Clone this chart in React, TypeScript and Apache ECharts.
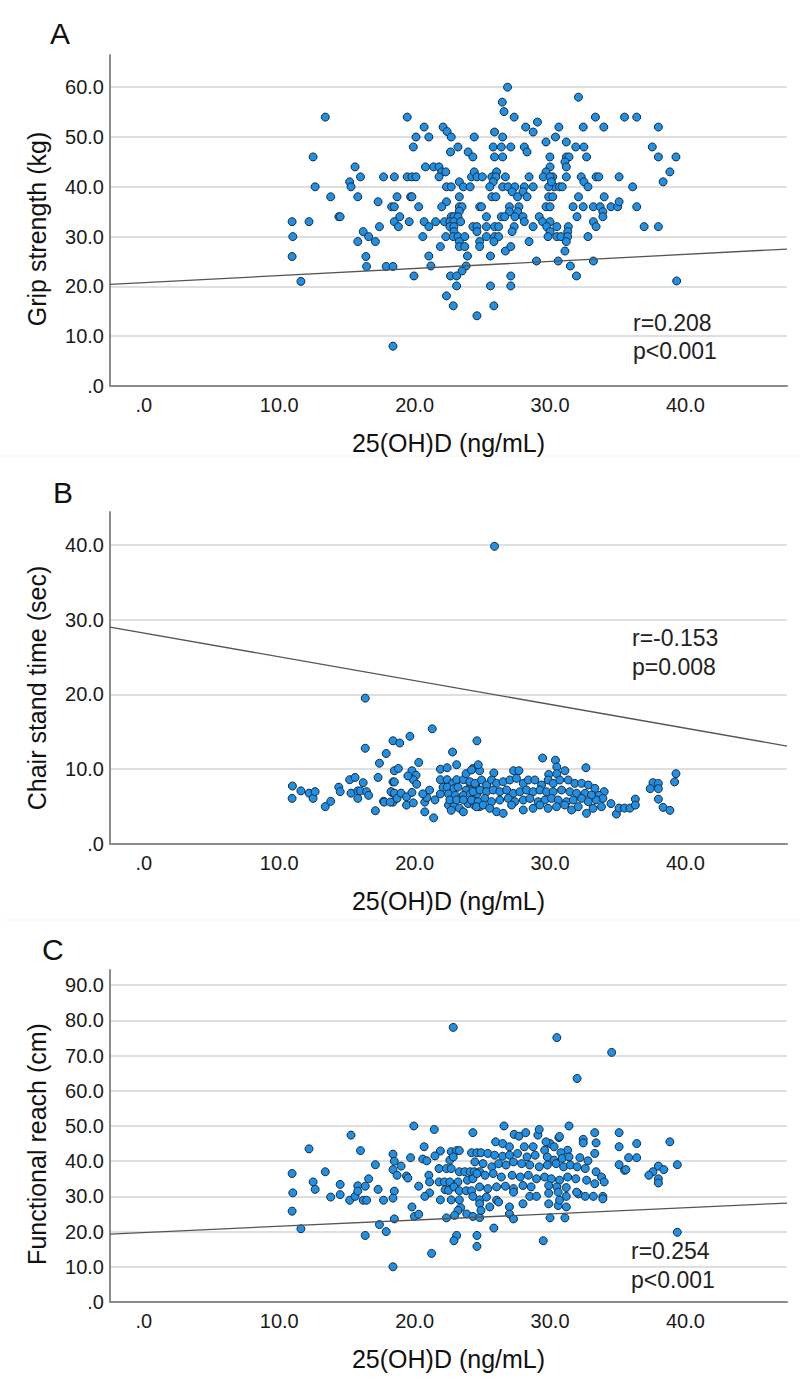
import React, { useEffect, useRef } from 'react';
import * as echarts from 'echarts';

// ---------- DATA ----------
const xTickValues = [0, 10, 20, 30, 40];

// Panel A: Grip strength (kg) vs 25(OH)D
const gripStrength: number[][] = [
  [10.95, 33], [11.0, 30], [10.95, 26], [11.6, 21], [12.2, 33], [12.5, 46], [12.65, 40], [13.4, 54], [13.8, 38],
  [14.4, 34], [14.5, 34], [15.2, 41], [15.3, 40], [15.6, 44], [15.8, 38], [16.0, 42], [15.8, 29], [16.2, 31],
  [16.4, 26], [16.45, 24], [16.6, 30], [17.1, 29], [17.3, 37], [17.4, 32], [17.7, 42], [17.9, 24], [18.4, 24],
  [18.4, 8], [18.5, 42], [18.3, 36], [18.5, 36], [18.5, 33], [18.7, 38], [18.8, 32],
  [19.45, 54], [20.7, 52], [22.1, 52], [22.4, 51.1], [20.1, 50], [21.05, 50], [22.7, 50], [24.4, 50], [19.9, 48],
  [23.2, 48], [22.65, 47], [23.95, 47], [24.3, 46], [20.8, 44], [21.4, 44], [21.8, 44], [22.0, 43], [22.3, 43],
  [21.8, 42], [19.45, 42], [19.8, 42], [20.1, 42], [24.2, 42], [22.35, 40], [22.7, 40], [23.3, 41], [23.6, 40],
  [24.1, 40], [19.7, 38], [19.8, 38], [23.3, 38], [22.35, 37], [22.0, 36], [20.3, 36], [23.3, 36], [23.5, 36],
  [23.3, 35.1], [18.9, 34], [22.7, 34], [22.9, 34], [23.2, 34], [24.8, 36], [19.6, 33], [20.7, 33], [21.55, 33],
  [22.2, 33], [22.6, 33], [22.9, 33], [23.4, 33], [21.05, 32], [22.6, 32], [22.9, 32], [22.9, 31], [20.6, 30],
  [22.3, 30], [22.85, 30], [23.2, 30], [23.7, 30], [23.3, 29], [21.9, 28], [23.3, 28], [23.7, 28], [21.05, 26.1],
  [23.9, 26.1], [21.2, 24.1], [23.8, 24.1], [23.5, 23.1], [19.95, 22.1], [22.65, 22.1], [23.1, 22.1], [23.1, 20.1],
  [22.35, 18.1], [22.85, 16.1], [24.6, 14.1],
  [26.86, 60], [26.47, 57], [26.6, 55.1], [27.35, 54], [29.07, 53], [28.2, 52], [28.75, 51], [30.65, 52], [32.1, 58],
  [33.35, 54], [32.45, 52], [33.97, 52], [35.5, 54], [36.4, 54], [38.0, 52], [25.9, 51], [26.5, 50], [30.4, 50],
  [29.7, 49], [31.2, 49], [31.9, 48], [32.5, 48], [37.55, 48], [38.0, 46], [39.3, 46], [38.85, 43], [38.35, 41],
  [25.8, 48], [26.4, 48], [27.1, 48], [28.1, 48], [28.3, 47], [25.9, 46], [26.5, 46], [29.99, 46], [31.2, 46],
  [31.4, 46], [32.7, 46], [31.1, 45], [30.0, 44], [31.2, 44], [26.05, 43], [24.4, 43], [29.7, 43], [30.2, 42],
  [24.6, 42], [25.0, 42], [25.7, 42], [26.0, 42], [26.7, 42], [28.45, 42], [29.5, 42], [30.0, 42], [31.2, 42],
  [32.3, 42], [33.4, 42], [33.6, 42], [35.1, 42], [25.8, 41], [25.55, 40], [26.5, 40], [26.9, 40], [27.4, 40],
  [28.1, 40], [28.75, 40], [30.3, 40], [30.7, 40], [30.9, 40], [32.5, 41], [32.8, 40], [36.1, 40], [27.2, 39],
  [28.0, 39], [29.9, 40], [30.1, 41], [25.7, 38], [26.0, 38], [27.6, 38], [28.3, 38], [29.9, 38], [30.2, 38],
  [32.1, 38], [34.0, 38], [24.94, 36], [27.0, 36], [27.7, 36], [29.7, 36], [30.0, 36], [31.7, 36], [32.45, 36],
  [33.2, 36], [33.7, 36], [34.5, 36], [35.0, 36], [35.1, 37], [36.4, 36], [27.6, 35], [27.0, 35], [33.9, 35],
  [25.3, 34], [26.4, 34], [26.65, 34], [27.4, 34], [28.0, 34], [29.2, 34], [31.99, 34], [33.9, 34], [28.1, 33],
  [29.45, 33], [30.0, 33], [33.2, 33], [24.3, 32], [24.6, 32], [25.3, 32], [25.9, 32], [26.2, 32], [27.35, 32],
  [28.75, 32], [29.75, 32], [30.5, 32], [31.35, 32], [33.4, 32], [36.95, 32], [38.0, 32], [27.2, 31], [30.0, 31],
  [31.3, 31], [24.6, 31], [25.3, 30], [25.9, 30], [26.2, 30], [29.85, 30], [30.5, 30], [30.8, 30], [31.3, 30],
  [32.8, 30], [24.8, 29], [25.85, 29], [28.45, 29], [31.2, 29], [24.8, 28], [26.7, 27.1], [27.1, 28], [31.1, 27.1],
  [25.6, 26.1], [29.0, 25.1], [30.6, 25.1], [33.2, 25.1], [31.5, 24.1], [31.95, 22.1], [27.1, 22.1], [25.6, 20.1],
  [27.1, 20.1], [39.35, 21.1], [25.85, 16.1],
];

// Panel B: Chair stand time (sec) vs 25(OH)D
const chairStand: number[][] = [
  [10.97, 7.75], [10.95, 6.1], [11.6, 7.1], [12.2, 6.8], [12.5, 6.1], [12.65, 7.0], [13.4, 5.0], [13.8, 5.7],
  [14.4, 7.6], [14.5, 7.0], [15.2, 8.6], [15.6, 8.9], [15.3, 6.8], [15.8, 7.1], [15.8, 6.1], [16.0, 7.1],
  [16.2, 8.2], [16.35, 19.5], [16.35, 12.8], [16.45, 7.0], [16.6, 6.5], [17.1, 4.45], [17.3, 8.9], [17.4, 10.8],
  [17.7, 5.7], [17.9, 12.1], [18.4, 13.8], [18.9, 13.5], [18.4, 8.3], [18.5, 8.3], [18.5, 9.8], [18.4, 6.8],
  [18.4, 5.6], [19.65, 14.4], [21.3, 15.4], [22.8, 12.3], [24.6, 13.8], [23.1, 10.6], [20.3, 10.9], [19.8, 9.8],
  [21.9, 10.0], [22.4, 10.2], [24.3, 10.1], [24.8, 9.8], [18.8, 10.1], [20.1, 9.2], [19.9, 8.6], [19.5, 9.1],
  [20.15, 8.0], [21.1, 7.2], [18.25, 7.0], [18.5, 6.8], [18.7, 6.1], [19.0, 6.8], [19.4, 6.3], [19.8, 6.9],
  [17.75, 5.6], [18.2, 5.6], [19.4, 5.2], [19.9, 5.5], [20.75, 5.6], [20.9, 6.2], [21.5, 5.9], [20.6, 6.7],
  [20.75, 4.3], [21.4, 3.5], [21.9, 6.7], [22.1, 7.6], [21.9, 8.6], [22.4, 8.6], [22.8, 8.1], [23.1, 8.6],
  [23.6, 8.6], [24.1, 8.1], [24.5, 7.9], [22.4, 7.6], [22.9, 7.4], [23.2, 7.6], [23.8, 7.2], [22.5, 6.7],
  [23.0, 6.5], [23.6, 6.5], [24.1, 6.7], [24.6, 6.7], [22.5, 5.2], [22.9, 5.0], [23.3, 4.8], [23.95, 5.4],
  [24.4, 5.2], [24.8, 5.0], [22.6, 5.9], [23.1, 5.9], [23.6, 5.9], [24.2, 5.9], [23.8, 9.4], [24.2, 9.9],
  [24.7, 10.6], [23.6, 4.3], [22.7, 4.5],
  [29.45, 11.5], [30.4, 11.2], [30.5, 10.3], [32.65, 10.2], [25.85, 9.5], [27.3, 9.8], [27.7, 9.8], [29.9, 9.3],
  [30.5, 9.4], [31.1, 9.8], [39.3, 9.4], [39.2, 8.3], [37.6, 8.2], [38.0, 8.1], [38.0, 7.4], [37.4, 7.4],
  [36.3, 6.0], [38.0, 6.0], [38.35, 4.9], [38.85, 4.5], [34.9, 4.0], [35.1, 4.8], [35.5, 4.8], [35.9, 4.8],
  [36.3, 5.2], [34.5, 5.4], [34.0, 7.0], [33.6, 6.5], [33.9, 6.1], [33.4, 5.9],
  [24.08, 8.33], [24.45, 8.11], [24.94, 8.56], [25.31, 7.89], [25.68, 8.56], [26.05, 8.11], [26.54, 8.33],
  [27.03, 8.56], [27.52, 8.78], [28.02, 8.11], [28.39, 8.56], [28.88, 8.56], [29.37, 7.89], [29.86, 8.56],
  [30.23, 8.11], [30.72, 8.56], [31.34, 8.56], [31.83, 8.11], [32.33, 8.11], [32.82, 7.89], [33.31, 7.44],
  [24.32, 6.99], [24.82, 7.22], [25.31, 6.99], [25.8, 7.22], [26.29, 6.99], [26.79, 7.22], [27.28, 6.77],
  [27.77, 6.99], [28.26, 7.22], [28.75, 6.99], [29.25, 7.22], [29.74, 6.99], [30.23, 6.99], [30.85, 7.22],
  [31.46, 6.99], [31.96, 6.77], [32.57, 6.77], [33.06, 6.55],
  [24.2, 5.88], [24.69, 5.66], [25.18, 6.1], [25.68, 5.66], [26.29, 5.88], [26.91, 6.1], [27.4, 5.66],
  [28.02, 5.88], [28.51, 6.1], [29.12, 5.66], [29.62, 5.88], [30.11, 6.1], [30.6, 5.88], [31.22, 5.66],
  [31.71, 5.88], [32.33, 6.1], [32.82, 5.66],
  [24.57, 4.99], [25.06, 5.21], [25.55, 4.77], [26.05, 4.32], [26.54, 4.1], [27.16, 5.21], [28.02, 4.55],
  [28.75, 4.77], [29.25, 5.21], [29.86, 4.77], [30.48, 4.99], [31.09, 5.21], [31.59, 4.55], [32.08, 4.99],
  [32.69, 4.1], [33.18, 4.77], [33.8, 4.99],
  [25.9, 39.8],
];

// Panel C: Functional reach (cm) vs 25(OH)D
const functionalReach: number[][] = [
  [10.95, 36.5], [11.0, 31.0], [10.95, 25.8], [11.6, 20.8], [12.2, 43.5], [12.5, 34.1], [12.65, 32.0], [13.4, 37.0],
  [13.8, 29.8], [14.5, 30.5], [14.5, 33.4], [15.2, 28.9], [15.3, 47.4], [15.6, 30.0], [15.8, 33.0], [15.8, 31.5],
  [16.0, 43.0], [16.2, 28.9], [16.45, 28.9], [16.35, 32.9], [16.35, 18.9], [16.6, 35.0], [17.1, 39.0], [17.3, 32.0],
  [17.4, 22.0], [17.7, 28.9], [17.9, 20.0], [18.4, 42.0], [18.4, 37.6], [18.4, 10], [18.5, 40], [18.5, 31.5],
  [18.4, 29.5], [18.5, 23.6], [18.7, 36],
  [19.94, 50], [21.45, 49], [24.3, 48.1], [20.7, 44.1], [21.9, 42.9], [21.5, 41.5], [22.7, 42.7], [23.1, 43],
  [23.3, 43], [24.2, 42.4], [24.6, 42.4], [20.6, 40.6], [20.9, 40.1], [19.7, 41], [19.0, 38.6], [19.4, 35.8],
  [19.5, 35.2], [21.8, 37.9], [22.35, 37.9], [22.7, 37.9], [22.6, 40.3], [22.85, 41.2], [23.3, 37], [23.7, 37],
  [24.1, 37], [24.4, 37], [24.8, 37], [21.05, 36], [21.1, 34.1], [21.8, 34.1], [22.2, 34.1], [22.6, 34.1],
  [23.2, 34.1], [23.9, 34.6], [24.3, 35], [22.25, 31.9], [22.5, 31.7], [22.9, 32.7], [23.3, 31.6], [23.8, 31.6],
  [24.2, 31.6], [20.3, 32.9], [21.1, 31], [20.75, 30], [21.9, 29], [22.7, 29], [23.3, 29], [24.3, 30], [24.8, 29],
  [23.4, 26.8], [23.2, 26], [22.95, 24.6], [22.35, 23.9], [23.85, 25], [24.3, 24.3], [24.8, 24], [19.8, 27],
  [19.98, 24.3], [20.3, 24.9], [23.1, 18.9], [22.9, 17.4], [24.6, 18.9], [24.6, 15.8], [21.25, 13.8],
  [26.6, 50], [31.4, 50], [27.35, 47.6], [27.7, 47.1], [28.2, 48.1], [29.1, 47.4], [29.2, 49], [30.65, 46.7],
  [32.45, 46.2], [32.45, 45.2], [33.3, 48.1], [33.4, 45.2], [35.1, 48.1], [35.1, 44.1], [36.4, 45.0], [38.85, 45.5],
  [25.98, 45.5], [26.5, 45], [27.0, 44.1], [28.1, 44.1], [28.75, 44.1], [29.6, 43.1], [30.0, 45], [29.7, 45.5],
  [30.3, 44.1], [30.7, 47], [31.3, 43.1], [30.8, 42.4], [33.3, 42.2], [24.9, 42.4], [25.4, 42.2], [25.9, 41.7],
  [26.5, 41.4], [27.0, 41.7], [27.6, 42.2], [28.3, 41.2], [28.9, 41.7], [29.8, 41.2], [30.3, 40.3], [30.9, 40.8],
  [31.4, 41.2], [32.2, 41], [32.8, 40.1], [35.1, 39], [35.8, 41], [36.4, 41], [35.5, 37.4], [39.4, 39], [37.6, 37],
  [38.0, 38.6], [38.4, 37.6], [37.3, 36], [38.0, 35.0], [38.0, 33.8], [35.6, 37.6],
  [24.45, 39.8], [25.05, 39.3], [25.7, 38.4], [26.2, 39.3], [26.75, 38.9], [27.3, 39.8], [27.9, 39.3], [28.5, 38.9],
  [29.2, 38.4], [29.8, 38.9], [30.45, 39.3], [31.0, 38.4], [31.5, 38.9], [32.0, 38.4], [32.6, 37.9], [33.4, 37.0],
  [33.8, 35.5], [34.0, 34.1],
  [24.6, 36.5], [25.2, 36], [25.8, 36.5], [26.4, 35.5], [27.2, 36], [27.8, 35.5], [28.4, 36], [29.0, 35.0],
  [29.6, 35.5], [30.1, 35.0], [30.7, 34.6], [31.3, 35.5], [31.9, 35.0], [32.7, 34.6], [33.3, 33.6],
  [24.8, 32.7], [25.4, 32.2], [26.05, 32.7], [26.7, 32.9], [27.3, 32.2], [28.0, 33.1], [28.6, 32.7], [29.9, 33.1],
  [30.5, 32.7], [31.2, 32.5], [32.1, 30.7], [32.6, 30.0], [33.2, 30.0], [33.9, 30.0],
  [25.3, 29.8], [26.05, 28.9], [27.3, 31.2], [28.5, 30.0], [29.0, 30.0], [29.9, 30.9], [30.6, 31.2], [31.2, 30.0],
  [31.96, 31.2], [33.9, 29.3],
  [24.8, 27.9], [25.55, 27], [26.2, 28.4], [27.0, 27], [28.0, 27.9], [29.9, 27.9], [30.6, 27.4], [31.2, 27],
  [30.7, 28.9], [24.9, 26], [27.0, 25], [27.3, 23.6], [30.0, 23.9], [31.1, 23.9],
  [25.85, 21], [29.5, 17.4], [39.4, 19.8],
  [22.85, 78.0], [30.5, 75.1], [34.55, 70.9], [32.0, 63.5],
];

// Fit lines (end points at the x-axis limits)
const fitA = [[-2.5, 20.4], [47.5, 27.5]];
const fitB = [[-2.5, 29.0], [47.5, 13.1]];
const fitC = [[-2.5, 19.3], [47.5, 28.1]];

const yTicksA = [0, 10, 20, 30, 40, 50, 60];
const yTicksB = [0, 10, 20, 30, 40];
const yTicksC = [0, 10, 20, 30, 40, 50, 60, 70, 80, 90];

const panelLetters = ['A', 'B', 'C'];
const yTitles = ['Grip strength (kg)', 'Chair stand time (sec)', 'Functional reach (cm)'];
const xTitle = '25(OH)D (ng/mL)';
const statsR = ['r=0.208', 'r=-0.153', 'r=0.254'];
const statsP = ['p<0.001', 'p=0.008', 'p<0.001'];

// ---------- LAYOUT ----------
const FONT = '"Liberation Sans", Arial, Helvetica, sans-serif';
const X_MIN = -2.5;
const X_MAX = 47.5;
const GRID_LEFT = 110;
const GRID_WIDTH = 677;
const layouts = [
  { top: 55, height: 331, yMax: 66.47, letterX: 50, letterY: 33, yTitleY: 229, rY: 323, pY: 351, statX: 633 },
  { top: 512, height: 332, yMax: 44.39, letterX: 53, letterY: 492, yTitleY: 688, rY: 638, pY: 667, statX: 632 },
  { top: 970, height: 332, yMax: 94.3, letterX: 42, letterY: 949, yTitleY: 1144, rY: 1251, pY: 1280, statX: 631 },
];
const datasets = [gripStrength, chairStand, functionalReach];
const fits = [fitA, fitB, fitC];
const yTicks = [yTicksA, yTicksB, yTicksC];

const fmt = (v: number) => (v === 0 ? '.0' : v.toFixed(1));

export default function App() {
  const ref = useRef<HTMLDivElement>(null);

  useEffect(() => {
    document.body.style.margin = '0';
    if (!ref.current) return;
    const chart = echarts.init(ref.current, null, { renderer: 'svg' });

    const grid: any[] = [];
    const xAxis: any[] = [];
    const yAxis: any[] = [];
    const series: any[] = [];
    const graphic: any[] = [];

    layouts.forEach((L, i) => {
      grid.push({ left: GRID_LEFT, width: GRID_WIDTH, top: L.top, height: L.height, containLabel: false });
      xAxis.push({
        gridIndex: i,
        type: 'value',
        min: X_MIN,
        max: X_MAX,
        axisLine: { show: true, onZero: false, lineStyle: { color: '#8c8c8c', width: 2 } },
        axisTick: { show: false },
        splitLine: { show: false },
        axisLabel: {
          customValues: xTickValues,
          formatter: fmt,
          fontSize: 20,
          color: '#1a1a1a',
          margin: 9,
          fontFamily: FONT,
        },
        name: xTitle,
        nameLocation: 'middle',
        nameGap: 44,
        nameTextStyle: { fontSize: 25, color: '#111', fontFamily: FONT },
      });
      yAxis.push({
        gridIndex: i,
        type: 'value',
        min: 0,
        max: L.yMax,
        axisLine: { show: true, onZero: false, lineStyle: { color: '#8c8c8c', width: 2 } },
        axisTick: { show: false },
        splitLine: { show: false },
        axisLabel: {
          customValues: yTicks[i],
          formatter: fmt,
          fontSize: 20,
          color: '#1a1a1a',
          margin: 6,
          fontFamily: FONT,
        },
      });
      // grid lines (behind the points)
      series.push({
        type: 'scatter',
        xAxisIndex: i,
        yAxisIndex: i,
        data: [],
        silent: true,
        z: 0,
        markLine: {
          silent: true,
          z: 0,
          symbol: ['none', 'none'],
          label: { show: false },
          lineStyle: { color: '#d4d4d4', width: 1.5, type: 'solid' },
          data: yTicks[i].filter((v) => v > 0).map((v) => ({ yAxis: v })),
        },
      });
      series.push({
        type: 'scatter',
        xAxisIndex: i,
        yAxisIndex: i,
        data: datasets[i],
        symbolSize: 8,
        itemStyle: { color: '#1e90e6', borderColor: '#1c2b3b', borderWidth: 1, opacity: 1 },
        z: 6,
      });
      series.push({
        type: 'line',
        xAxisIndex: i,
        yAxisIndex: i,
        data: fits[i],
        showSymbol: false,
        symbol: 'none',
        lineStyle: { color: '#555', width: 1.3 },
        silent: true,
        z: 7,
      });

      graphic.push({
        type: 'text',
        x: L.letterX,
        y: L.letterY,
        style: { text: panelLetters[i], font: `30px ${FONT}`, fill: '#111', align: 'left', verticalAlign: 'middle' },
      });
      graphic.push({
        type: 'text',
        x: 37,
        y: L.yTitleY,
        rotation: Math.PI / 2,
        style: { text: yTitles[i], font: `25px ${FONT}`, fill: '#111', align: 'center', verticalAlign: 'middle' },
      });
      graphic.push({
        type: 'text',
        x: L.statX,
        y: L.rY,
        style: { text: statsR[i], font: `23px ${FONT}`, fill: '#222', align: 'left', verticalAlign: 'middle' },
      });
      graphic.push({
        type: 'text',
        x: L.statX,
        y: L.pY,
        style: { text: statsP[i], font: `23px ${FONT}`, fill: '#222', align: 'left', verticalAlign: 'middle' },
      });
    });

    graphic.push({ type: 'line', shape: { x1: 0, y1: 456, x2: 800, y2: 456 }, style: { stroke: '#f5f5f5', lineWidth: 1 } });
    graphic.push({ type: 'line', shape: { x1: 5, y1: 920, x2: 800, y2: 920 }, style: { stroke: '#f5f5f5', lineWidth: 1 } });

    chart.setOption({
      animation: false,
      backgroundColor: '#ffffff',
      textStyle: { fontFamily: FONT },
      grid,
      xAxis,
      yAxis,
      series,
      graphic,
    });

    return () => chart.dispose();
  }, []);

  return <div ref={ref} style={{ width: 800, height: 1379 }} />;
}
